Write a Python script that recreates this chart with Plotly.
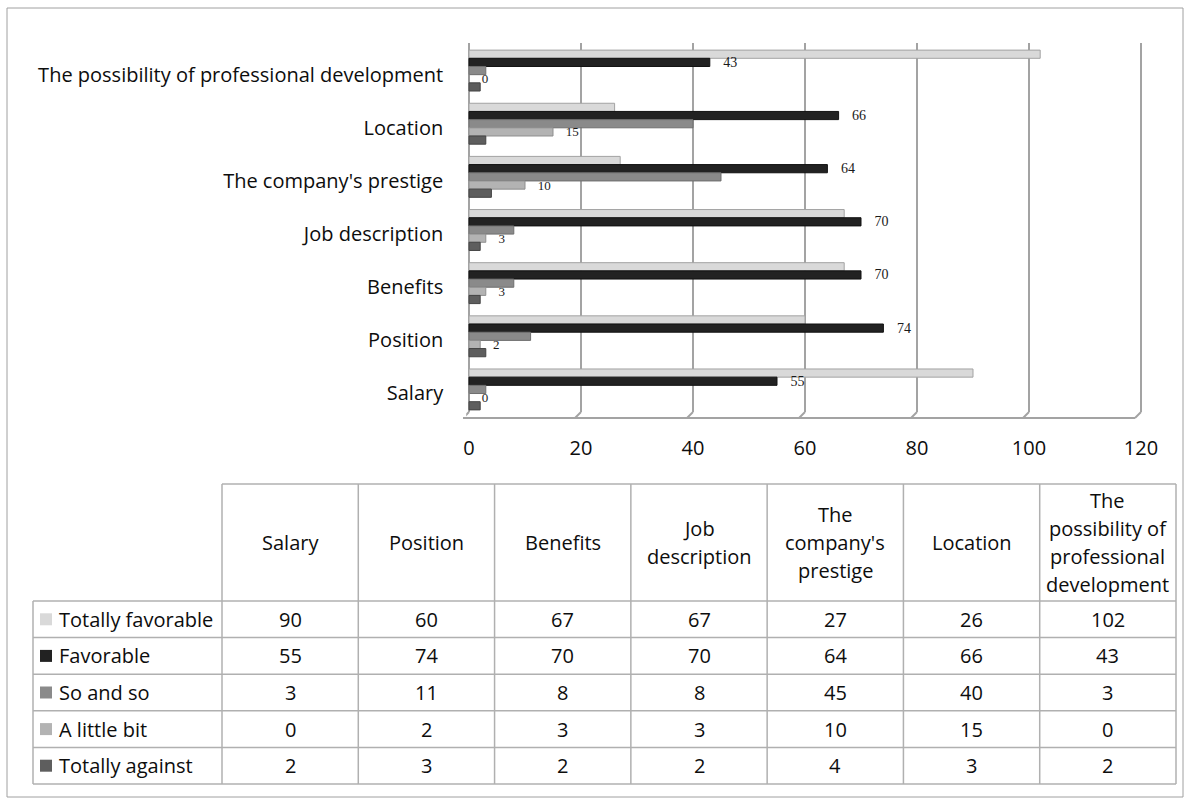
import plotly.graph_objects as go

W, H = 1189, 805

categories = ["Salary", "Position", "Benefits", "Job description",
              "The company's prestige", "Location",
              "The possibility of professional development"]
header_labels = ["Salary", "Position", "Benefits", "Job<br>description",
                 "The<br>company's<br>prestige", "Location",
                 "The<br>possibility of<br>professional<br>development"]
series_names = ["Totally favorable", "Favorable", "So and so", "A little bit", "Totally against"]
totally_favorable = [90, 60, 67, 67, 27, 26, 102]
favorable = [55, 74, 70, 70, 64, 66, 43]
so_and_so = [3, 11, 8, 8, 45, 40, 3]
a_little_bit = [0, 2, 3, 3, 10, 15, 0]
totally_against = [2, 3, 2, 2, 4, 3, 2]
series_values = [totally_favorable, favorable, so_and_so, a_little_bit, totally_against]
x_ticks = [0, 20, 40, 60, 80, 100, 120]

colors = ["#d9d9d9", "#222222", "#8a8a8a", "#b3b3b3", "#5e5e5e"]
edge_colors = ["#a3a3a3", "#111111", "#6e6e6e", "#8f8f8f", "#444444"]
label_sizes = [None, 14, None, 13, None]

FONT = "Open Sans"
TXT = "#0d0d0d"
GRID = "#a3a3a3"

def px(x):
    return x / W

def py(y):
    return 1 - y / H

fig = go.Figure()
# reversed category axis: first trace ("Totally favorable") sits at the top of each group,
# and later traces (with their value labels) are drawn on top of it
for i in range(len(series_names)):
    has_lbl = label_sizes[i] is not None
    fig.add_trace(go.Bar(
        y=categories, x=series_values[i], name=series_names[i], orientation="h",
        marker=dict(color=colors[i], line=dict(color=edge_colors[i], width=1)),
        texttemplate="\u00a0\u00a0\u00a0%{x}" if has_lbl else None,
        textposition="outside" if has_lbl else "none",
        constraintext="none",
        textfont=dict(family="Liberation Serif", size=label_sizes[i] or 13, color="#1a1a1a"),
        cliponaxis=False, showlegend=False,
    ))

# axis range padded by half a unit on each side so the edge gridlines are not clipped
x0p, x1p, y0p, y1p = 466.2, 1143.8, 44, 416
fig.update_layout(
    width=W, height=H, margin=dict(l=0, r=0, t=0, b=0, autoexpand=False),
    paper_bgcolor="white", plot_bgcolor="rgba(0,0,0,0)",
    barmode="group", bargap=0.23, bargroupgap=0.0,
    font=dict(family=FONT, size=20, color=TXT),
    xaxis=dict(domain=[px(x0p), px(x1p)], range=[-0.5, 120.5], tickvals=x_ticks,
               showgrid=False, zeroline=False, showline=False,
               ticks="", ticklabelstandoff=18, tickfont=dict(size=20), automargin=False),
    yaxis=dict(domain=[py(y1p), py(y0p)], categoryorder="array",
               categoryarray=categories[::-1], autorange="reversed",
               showgrid=False, showline=False, zeroline=False,
               ticks="", ticklabelstandoff=22, ticklabelshift=-4,
               tickfont=dict(size=20), automargin=False),
)

shapes = []
grid_line = dict(color=GRID, width=2)
# 3D-style back-wall gridlines with slanted floor ends (the 0 line is the side wall)
for t in x_ticks:
    shapes.append(dict(type="line", layer="below", xref="x", yref="paper", x0=t, x1=t,
                       y0=py(412), y1=py(43), line=grid_line))
    shapes.append(dict(type="line", layer="below", xref="x", yref="paper", xsizemode="pixel",
                       xanchor=t, x0=0, x1=-6, y0=py(412), y1=py(418), line=grid_line))
# floor front edge
shapes.append(dict(type="line", layer="below", xref="paper", yref="paper",
                   x0=px(463), x1=px(1135), y0=py(418), y1=py(418), line=grid_line))

# outer border
shapes.append(dict(type="rect", xref="paper", yref="paper", x0=px(7), x1=px(1183),
                   y0=py(797), y1=py(8), line=dict(color="#a0a0a0", width=1)))
# table grid
line_style = dict(color="#b0b0b0", width=1.5)
col_left = 33
col_edges = [222 + i * (1176 - 222) / 7 for i in range(8)]
header_top = 484
row_edges = [601 + i * (784 - 601) / 5 for i in range(6)]
shapes.append(dict(type="line", xref="paper", yref="paper", x0=px(col_edges[0]), x1=px(col_edges[-1]),
                   y0=py(header_top), y1=py(header_top), line=line_style))
for r in row_edges:
    shapes.append(dict(type="line", xref="paper", yref="paper", x0=px(col_left), x1=px(col_edges[-1]),
                       y0=py(r), y1=py(r), line=line_style))
shapes.append(dict(type="line", xref="paper", yref="paper", x0=px(col_left), x1=px(col_left),
                   y0=py(row_edges[0]), y1=py(row_edges[-1]), line=line_style))
for c in col_edges:
    shapes.append(dict(type="line", xref="paper", yref="paper", x0=px(c), x1=px(c),
                       y0=py(header_top), y1=py(row_edges[-1]), line=line_style))

annotations = []
# header (one annotation per line for tighter line spacing)
line_gap = 28
for j, lab in enumerate(header_labels):
    cx = (col_edges[j] + col_edges[j + 1]) / 2
    cy = (header_top + row_edges[0]) / 2
    parts = lab.split("<br>")
    n = len(parts)
    for k, part in enumerate(parts):
        ly = cy + (k - (n - 1) / 2) * line_gap
        annotations.append(dict(xref="paper", yref="paper", x=px(cx), y=py(ly), text=part,
                                showarrow=False, xanchor="center", yanchor="middle",
                                font=dict(size=20, color=TXT)))
# rows
for i, name in enumerate(series_names):
    cy = (row_edges[i] + row_edges[i + 1]) / 2
    shapes.append(dict(type="rect", xref="paper", yref="paper", x0=px(40), x1=px(52),
                       y0=py(cy + 6), y1=py(cy - 6), fillcolor=colors[i], line=dict(width=0)))
    annotations.append(dict(xref="paper", yref="paper", x=px(57), y=py(cy), text=name,
                            showarrow=False, xanchor="left", yanchor="middle",
                            font=dict(size=20, color=TXT)))
    for j, v in enumerate(series_values[i]):
        cx = (col_edges[j] + col_edges[j + 1]) / 2
        annotations.append(dict(xref="paper", yref="paper", x=px(cx), y=py(cy), text=str(v),
                                showarrow=False, xanchor="center", yanchor="middle",
                                font=dict(size=20, color=TXT)))

fig.update_layout(shapes=shapes, annotations=annotations)
fig.write_html("out.html")
